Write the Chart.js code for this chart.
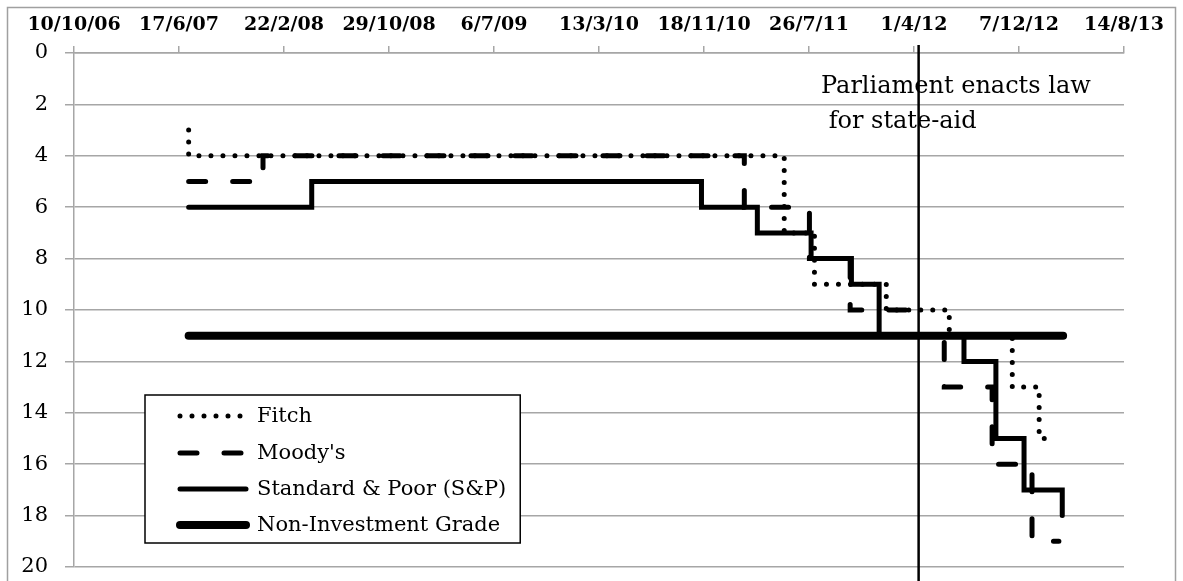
<!DOCTYPE html>
<html lang="en">
<head>
    <meta charset="UTF-8">
    <title>Credit ratings</title>
    <script src="https://cdn.jsdelivr.net/npm/chart.js"></script>
    <style>
        body { margin: 0; background: #fff; }
    </style>
</head>
<body>
    <canvas id="ratingsChart" width="1183" height="581"></canvas>
    <script>
        // axis: dates every 250 days starting 10/10/06
        var axisStart = '2006-10-10';
        var tickStepDays = 250;
        var tickCount = 10;
        var ratingTicks = [0, 2, 4, 6, 8, 10, 12, 14, 16, 18, 20];

        var seriesNames = ['Fitch', "Moody's", 'Standard & Poor (S&P)', 'Non-Investment Grade'];

        var fitchDates = ['2007-07-10', '2007-07-10', '2011-05-28', '2011-08-08', '2012-01-26', '2012-06-24', '2012-11-21', '2013-01-24', '2013-02-21'];
        var fitchRatings = [3, 4, 7, 9, 10, 11, 13, 15, 15];

        var moodysDates = ['2007-07-10', '2008-01-03', '2011-02-22', '2011-07-27', '2011-11-01', '2012-03-13', '2012-06-12', '2012-10-04', '2013-01-07', '2013-03-12'];
        var moodysRatings = [5, 4, 6, 8, 10, 11, 13, 16, 19, 19];

        var spDates = ['2007-07-10', '2008-04-28', '2010-11-12', '2011-03-25', '2011-07-31', '2011-11-04', '2012-01-09', '2012-07-29', '2012-10-13', '2012-12-19', '2013-03-20'];
        var spRatings = [6, 5, 6, 7, 8, 9, 11, 12, 15, 17, 18];

        var nigDates = ['2007-07-10', '2013-03-22'];
        var nigRatings = [11, 11];

        var eventDate = '2012-04-12';
        var eventLabel = ['Parliament enacts law', ' for state-aid'];

        var dayMs = 86400000;
        var startMs = Date.parse(axisStart + 'T00:00:00Z');
        function toDay(s) {
            return Math.round((Date.parse(s + 'T00:00:00Z') - startMs) / dayMs);
        }
        function points(dates, values) {
            return dates.map(function(d, i) { return { x: toDay(d), y: values[i] }; });
        }
        function fmtDate(day) {
            var d = new Date(startMs + day * dayMs);
            var yy = String(d.getUTCFullYear() % 100).padStart(2, '0');
            return d.getUTCDate() + '/' + (d.getUTCMonth() + 1) + '/' + yy;
        }

        var serif = '"DejaVu Serif", "Liberation Serif", serif';
        var gridGray = '#a6a6a6';

        var styles = [
            { borderWidth: 5, borderDash: [0, 12], borderCapStyle: 'round' },
            { borderWidth: 5, borderDash: [17, 27], borderCapStyle: 'round' },
            { borderWidth: 5, borderDash: [], borderCapStyle: 'round' },
            { borderWidth: 8, borderDash: [], borderCapStyle: 'round' }
        ];

        // event line, its note, the boxed legend and the outer frame
        var overlay = {
            id: 'overlay',
            afterDatasetsDraw: function(chart) {
                var ctx = chart.ctx;
                var xs = chart.scales.x;
                var area = chart.chartArea;
                var ex = xs.getPixelForValue(toDay(eventDate));
                ctx.save();
                ctx.strokeStyle = '#000';
                ctx.lineWidth = 2.5;
                ctx.beginPath();
                ctx.moveTo(ex, area.top - 8);
                ctx.lineTo(ex, chart.height);
                ctx.stroke();
                ctx.fillStyle = '#000';
                ctx.font = '24px ' + serif;
                ctx.textBaseline = 'alphabetic';
                ctx.textAlign = 'left';
                ctx.fillText(eventLabel[0], 821, 93);
                ctx.fillText(eventLabel[1], 821, 128);

                ctx.font = '21px ' + serif;
                var maxW = 0;
                seriesNames.forEach(function(n) { maxW = Math.max(maxW, ctx.measureText(n).width); });
                var left = 145, top = 395, bottom = 543;
                var right = 257 + maxW + 14;
                ctx.fillStyle = '#fff';
                ctx.fillRect(left, top, right - left, bottom - top);
                ctx.strokeStyle = '#000';
                ctx.lineWidth = 1.5;
                ctx.strokeRect(left, top, right - left, bottom - top);
                var rows = [416, 453, 489, 525];
                seriesNames.forEach(function(n, i) {
                    var st = styles[i];
                    ctx.beginPath();
                    ctx.lineWidth = st.borderWidth;
                    ctx.lineCap = st.borderCapStyle;
                    ctx.setLineDash(st.borderDash);
                    ctx.moveTo(180, rows[i]);
                    ctx.lineTo(i === 1 ? 242 : 246, rows[i]);
                    ctx.stroke();
                    ctx.setLineDash([]);
                    ctx.fillStyle = '#000';
                    ctx.textBaseline = 'middle';
                    ctx.fillText(n, 257, rows[i] + 1);
                });

                ctx.strokeStyle = '#a0a0a0';
                ctx.lineWidth = 1.5;
                ctx.strokeRect(7.5, 7.5, chart.width - 15, chart.height + 20);
                ctx.restore();
            }
        };

        var ctx = document.getElementById('ratingsChart').getContext('2d');
        var ratingsChart = new Chart(ctx, {
            type: 'line',
            data: {
                datasets: [
                    Object.assign({ label: seriesNames[0], data: points(fitchDates, fitchRatings) }, styles[0]),
                    Object.assign({ label: seriesNames[1], data: points(moodysDates, moodysRatings) }, styles[1]),
                    Object.assign({ label: seriesNames[2], data: points(spDates, spRatings) }, styles[2]),
                    Object.assign({ label: seriesNames[3], data: points(nigDates, nigRatings) }, styles[3])
                ].map(function(ds) {
                    ds.borderColor = '#000';
                    ds.stepped = true;
                    ds.pointRadius = 0;
                    ds.fill = false;
                    return ds;
                })
            },
            options: {
                responsive: false,
                devicePixelRatio: 1,
                animation: false,
                layout: { padding: { left: 0, top: 0, right: 59, bottom: 14 } },
                scales: {
                    x: {
                        type: 'linear',
                        position: 'top',
                        min: 0,
                        max: tickStepDays * tickCount,
                        afterFit: function(scale) { scale.height = 53; scale.paddingLeft = 0; scale.paddingRight = 0; },
                        ticks: {
                            stepSize: tickStepDays,
                            autoSkip: false,
                            maxRotation: 0,
                            padding: 10,
                            color: '#000',
                            font: { family: serif, size: 19, weight: 'bold' },
                            callback: function(v) { return fmtDate(v); }
                        },
                        grid: { drawOnChartArea: false, tickLength: 7, color: gridGray, lineWidth: 1.5 },
                        border: { color: gridGray, width: 1.5 }
                    },
                    y: {
                        reverse: true,
                        min: ratingTicks[0],
                        max: ratingTicks[ratingTicks.length - 1],
                        afterFit: function(scale) { scale.width = 74; scale.paddingTop = 0; scale.paddingBottom = 0; },
                        afterBuildTicks: function(scale) {
                            scale.ticks = ratingTicks.map(function(v) { return { value: v }; });
                        },
                        ticks: {
                            padding: 17,
                            color: '#000',
                            font: { family: serif, size: 21 }
                        },
                        grid: { color: gridGray, lineWidth: 1.5, tickLength: 9 },
                        border: { color: gridGray, width: 1.5 }
                    }
                },
                plugins: {
                    legend: { display: false },
                    tooltip: { enabled: false }
                }
            },
            plugins: [overlay]
        });
    </script>
</body>
</html>
